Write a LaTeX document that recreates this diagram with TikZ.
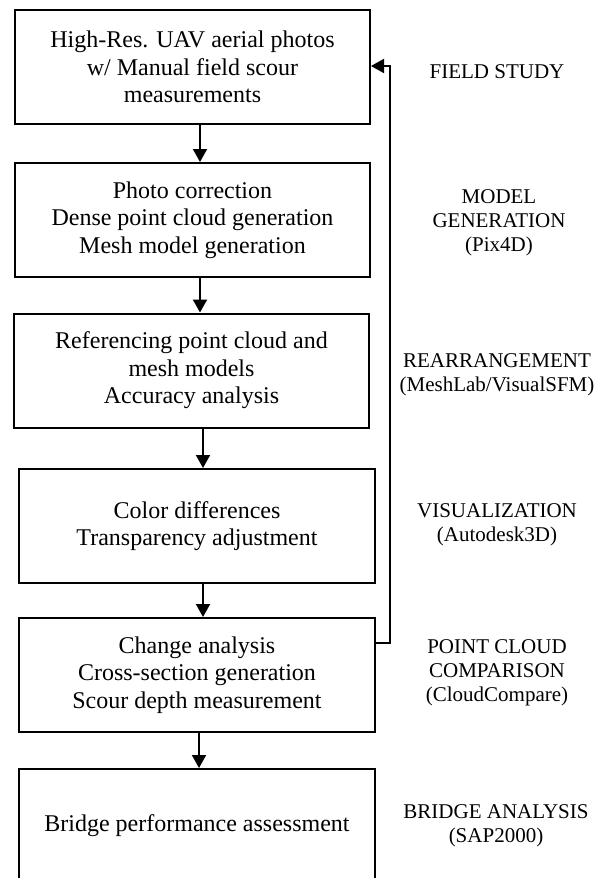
\documentclass[tikz,border=0pt]{standalone}
\usepackage{fontspec}
\setmainfont{Liberation Serif}
\usetikzlibrary{arrows.meta}
\begin{document}
\begin{tikzpicture}[x=1pt,y=-1pt,
  stepbox/.style={draw, line width=2pt, align=center, inner sep=0pt,
    minimum height=114pt, font=\fontsize{24}{27.5}\selectfont},
  tag/.style={align=center, font=\fontsize{21}{24}\selectfont},
  arr/.style={line width=2pt, -{Triangle[length=13pt,width=14pt]}}]
\useasboundingbox (0,0) rectangle (605,878);

% process steps
\node[stepbox, minimum width=355pt] (b1) at (192.5,67)
  {High-Res. UAV aerial photos\\w/ Manual field scour\\measurements};
\node[stepbox, minimum width=355pt] (b2) at (192.5,220)
  {Photo correction\\Dense point cloud generation\\Mesh model generation};
\node[stepbox, minimum width=355pt] (b3) at (191.5,370.5)
  {Referencing point cloud and\\mesh models\\Accuracy analysis};
\node[stepbox, minimum width=356pt] (b4) at (197,526)
  {Color differences\\Transparency adjustment};
\node[stepbox, minimum width=356pt] (b5) at (197,675)
  {Change analysis\\Cross-section generation\\Scour depth measurement};
\node[stepbox, minimum width=356pt] (b6) at (197,826)
  {Bridge performance assessment};

% stage labels
\node[tag] (t1) at (497,72) {FIELD STUDY};
\node[tag] (t2) at (499,223) {MODEL\\GENERATION\\(Pix4D)};
\node[tag] (t3) at (497,375) {REARRANGEMENT\\(MeshLab/VisualSFM)};
\node[tag] (t4) at (497,525) {VISUALIZATION\\(Autodesk3D)};
\node[tag] (t5) at (497,673) {POINT CLOUD\\COMPARISON\\(CloudCompare)};
\node[tag] (t6) at (496,826) {BRIDGE ANALYSIS\\(SAP2000)};

% downward flow
\coordinate (c1) at (200,0);
\coordinate (c2) at (203,0);
\coordinate (c3) at (199,0);
\draw[arr] (b1.south -| c1) -- (b2.north -| c1);
\draw[arr] (b2.south -| c1) -- (b3.north -| c1);
\draw[arr] (b3.south -| c2) -- (b4.north -| c2);
\draw[arr] (b4.south -| c2) -- (b5.north -| c2);
\draw[arr] (b5.south -| c3) -- (b6.north -| c3);

% feedback loop
\coordinate (fb) at (390,643);
\coordinate (ft) at (390,66);
\draw[arr] (b5.east |- fb) -- (fb) -- (ft) -- (b1.east |- ft);
\end{tikzpicture}
\end{document}
